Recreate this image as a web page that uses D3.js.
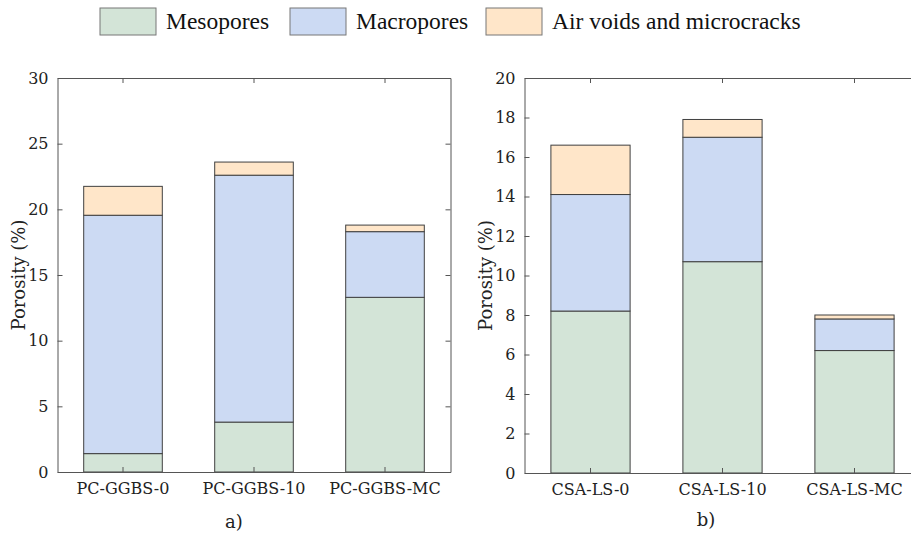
<!DOCTYPE html>
<html>
<head>
<meta charset="utf-8">
<script src="https://cdn.jsdelivr.net/npm/d3@7"></script>
<style>
  html, body { margin: 0; padding: 0; background: #fff; }
  svg { display: block; }
</style>
</head>
<body>
<svg id="chart" width="911" height="536"></svg>
<script>
// Pore-size classes (stack order bottom → top)
const poreClasses = ["Mesopores", "Macropores", "Air voids and microcracks"];
const poreColors = ["#d3e4d7", "#ccdaf3", "#ffe6c9"];

// Panel a) Portland cement + GGBS mixes
const mixesA = ["PC-GGBS-0", "PC-GGBS-10", "PC-GGBS-MC"];
const mesoA  = [1.4, 3.8, 13.3];
const macroA = [18.15, 18.8, 5.0];
const airA   = [2.2, 1.0, 0.5];
const ticksA = [0, 5, 10, 15, 20, 25, 30];

// Panel b) CSA + limestone mixes
const mixesB = ["CSA-LS-0", "CSA-LS-10", "CSA-LS-MC"];
const mesoB  = [8.2, 10.7, 6.2];
const macroB = [5.9, 6.3, 1.6];
const airB   = [2.5, 0.9, 0.2];
const ticksB = [0, 2, 4, 6, 8, 10, 12, 14, 16, 18, 20];

const svg = d3.select("#chart");
const tickFont = '"DejaVu Serif"';
const legendFont = '"Liberation Serif"';
const axisColor = "#555";

function panel(opts) {
  const { x0, x1, y0, y1, mixes, series, ticks, yMax, caption, capX, capY } = opts;
  const g = svg.append("g");

  const x = d3.scaleBand().domain(mixes).range([x0, x1]).paddingInner(0.4).paddingOuter(0.2);
  const y = d3.scaleLinear().domain([0, yMax]).range([y1, y0]);

  const rows = mixes.map((m, i) => {
    const r = { mix: m };
    poreClasses.forEach((c, k) => r[c] = series[k][i]);
    return r;
  });
  const stacked = d3.stack().keys(poreClasses)(rows);

  // stacked bars
  g.selectAll("g.layer").data(stacked).join("g")
    .attr("class", "layer")
    .attr("fill", (d, k) => poreColors[k])
    .selectAll("rect").data(d => d).join("rect")
    .attr("x", d => x(d.data.mix))
    .attr("width", x.bandwidth())
    .attr("y", d => y(d[1]))
    .attr("height", d => y(d[0]) - y(d[1]))
    .attr("stroke", "#404040")
    .attr("stroke-width", 1);

  // left axis with inward ticks
  const yAxis = d3.axisLeft(y).tickValues(ticks).tickSizeInner(-5).tickSizeOuter(0).tickPadding(9);
  const ga = g.append("g").attr("transform", `translate(${x0},0)`).call(yAxis);
  ga.attr("font-family", null);
  ga.select(".domain").attr("stroke", axisColor);
  ga.selectAll(".tick line").attr("stroke", axisColor);
  ga.selectAll("text").style("font-family", tickFont).style("font-size", "16px").attr("fill", "#222");

  // mirrored right ticks
  const gr = g.append("g").attr("transform", `translate(${x1},0)`)
    .call(d3.axisRight(y).tickValues(ticks).tickSizeInner(-5).tickSizeOuter(0).tickFormat(""));
  gr.select(".domain").attr("stroke", axisColor);
  gr.selectAll(".tick line").attr("stroke", axisColor);

  // bottom axis
  const gb = g.append("g").attr("transform", `translate(0,${y1})`)
    .call(d3.axisBottom(x).tickSizeInner(-5).tickSizeOuter(0).tickPadding(11));
  gb.attr("font-family", null);
  gb.select(".domain").attr("stroke", axisColor);
  gb.selectAll(".tick line").attr("stroke", axisColor);
  gb.selectAll("text").style("font-family", tickFont).style("font-size", "16px").attr("fill", "#222");

  // top edge with mirrored ticks
  const gt = g.append("g").attr("transform", `translate(0,${y0})`)
    .call(d3.axisTop(x).tickSizeInner(-5).tickSizeOuter(0).tickFormat(""));
  gt.select(".domain").attr("stroke", axisColor);
  gt.selectAll(".tick line").attr("stroke", axisColor);

  // y label
  g.append("text")
    .attr("transform", `translate(${x0 - 33},${(y0 + y1) / 2}) rotate(-90)`)
    .attr("text-anchor", "middle")
    .style("font-family", tickFont).style("font-size", "18px").attr("fill", "#222")
    .text("Porosity (%)");

  // panel caption
  g.append("text")
    .attr("x", capX).attr("y", capY)
    .attr("text-anchor", "middle")
    .style("font-family", tickFont).style("font-size", "18px").attr("fill", "#222")
    .text(caption);
}

panel({ x0: 57.5, x1: 450.5, y0: 78, y1: 472, mixes: mixesA,
        series: [mesoA, macroA, airA], ticks: ticksA, yMax: 30, caption: "a)", capX: 234, capY: 528 });
panel({ x0: 524.5, x1: 920.5, y0: 78, y1: 473, mixes: mixesB,
        series: [mesoB, macroB, airB], ticks: ticksB, yMax: 20, caption: "b)", capX: 706, capY: 526 });

// legend
const legendX = [100, 290, 486];
const lg = svg.append("g");
poreClasses.forEach((c, k) => {
  lg.append("rect").attr("x", legendX[k]).attr("y", 8).attr("width", 56).attr("height", 27)
    .attr("fill", poreColors[k]).attr("stroke", "#777").attr("stroke-width", 1);
  lg.append("text").attr("x", legendX[k] + 66).attr("y", 29)
    .style("font-family", legendFont).style("font-size", "23.5px").attr("fill", "#111")
    .text(c);
});
</script>
</body>
</html>
